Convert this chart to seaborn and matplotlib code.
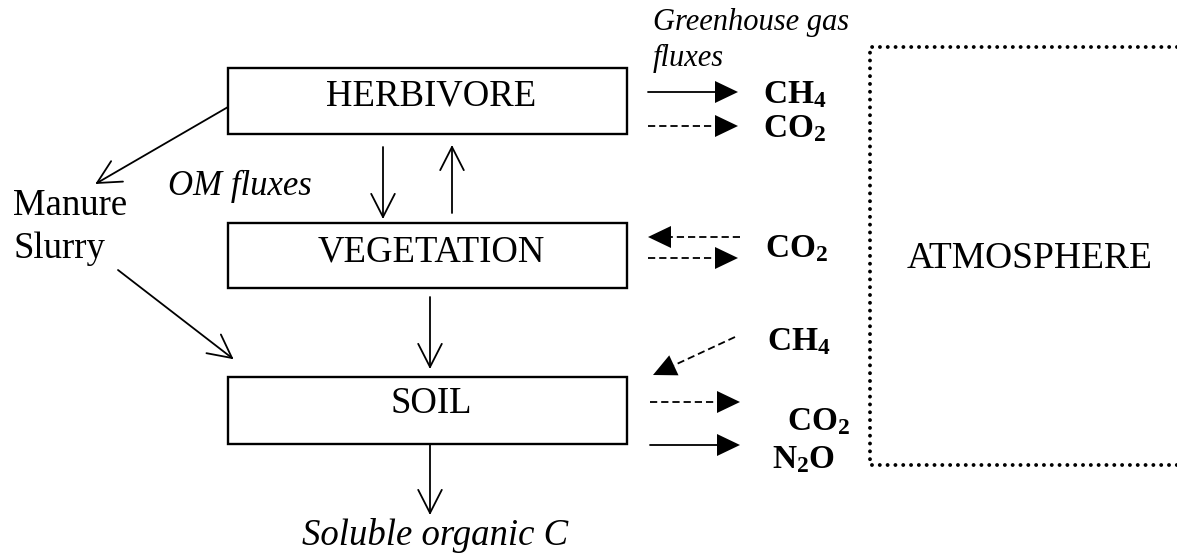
import numpy as np
import matplotlib
matplotlib.use("Agg")
import matplotlib.pyplot as plt
from matplotlib.patches import Rectangle, Polygon
import seaborn as sns

sns.set_style("white")
plt.rcParams['font.family'] = ['Liberation Serif', 'DejaVu Serif']
plt.rcParams['text.color'] = 'black'
plt.rcParams['mathtext.fontset'] = 'custom'
plt.rcParams['mathtext.rm'] = 'Liberation Serif'
plt.rcParams['mathtext.bf'] = 'Liberation Serif:bold'
plt.rcParams['mathtext.it'] = 'Liberation Serif:italic'

# diagram content
pools = ['HERBIVORE', 'VEGETATION', 'SOIL']
pool_top = [68, 223, 377]            # pixel rows of box tops
pool_bottom = [134, 288, 444]
pool_text_y = [105, 262, 413]
box_left, box_right = 228, 627

gas_labels = [r'$\mathbf{CH}_{\mathbf{4}}$', r'$\mathbf{CO}_{\mathbf{2}}$',
              r'$\mathbf{CO}_{\mathbf{2}}$', r'$\mathbf{CH}_{\mathbf{4}}$',
              r'$\mathbf{CO}_{\mathbf{2}}$', r'$\mathbf{N}_{\mathbf{2}}\mathbf{O}$']
gas_x = [763, 763, 765, 767, 787, 772]
gas_base = [103, 137, 257, 350, 430, 468]

W, H = 1177, 555
fig = plt.figure(figsize=(W / 100, H / 100), dpi=100)
ax = fig.add_axes([0, 0, 1, 1])
ax.set_xlim(0, W)
ax.set_ylim(H, 0)
ax.axis('off')

LW = 1.3
DASH = (4, 2.2)


def filled_arrow(x0, y0, x1, y1, dashed=False):
    v = np.array([x1 - x0, y1 - y0], float)
    L = np.hypot(*v)
    u = v / L
    n = np.array([-u[1], u[0]])
    hl, hw = 23, 11
    base = np.array([x1, y1]) - u * hl
    ls = (0, DASH) if dashed else '-'
    ax.plot([x0, base[0]], [y0, base[1]], color='black', lw=LW, linestyle=ls)
    tri = [(x1, y1), tuple(base + n * hw), tuple(base - n * hw)]
    ax.add_patch(Polygon(tri, closed=True, color='black', lw=0))


def open_arrow(x0, y0, x1, y1):
    v = np.array([x1 - x0, y1 - y0], float)
    u = v / np.hypot(*v)
    ax.plot([x0, x1], [y0, y1], color='black', lw=LW)
    for ang in (np.radians(27), -np.radians(27)):
        r = np.array([[np.cos(ang), -np.sin(ang)], [np.sin(ang), np.cos(ang)]])
        d = r @ (-u) * 26
        ax.plot([x1, x1 + d[0]], [y1, y1 + d[1]], color='black', lw=LW,
                solid_capstyle='round')


# pool boxes
for name, top, bot, ty in zip(pools, pool_top, pool_bottom, pool_text_y):
    ax.add_patch(Rectangle((box_left, top), box_right - box_left, bot - top,
                           fill=False, edgecolor='black', lw=1.7))
    ax.text(431, ty, name, ha='center', va='baseline', fontsize=26.5)

# atmosphere dotted box (right side runs off the page)
ax.plot([1177, 870, 870, 1177], [47, 47, 465, 465], color='black', lw=2.8,
        linestyle=(0, (0.01, 2.0)), dash_capstyle='round')
ax.text(907, 268, 'ATMOSPHERE', ha='left', va='baseline', fontsize=27)

# internal OM fluxes
open_arrow(383, 147, 383, 217)
open_arrow(452, 213, 452, 147)
open_arrow(430, 297, 430, 367)
open_arrow(430, 444, 430, 513)
open_arrow(228, 107, 97, 183)
open_arrow(118, 270, 232, 358)

ax.text(13, 215, 'Manure', fontsize=26.5, va='baseline')
ax.text(13, 258, 'Slurry', fontsize=26.5, va='baseline')
ax.text(168, 195, 'OM fluxes', fontsize=25, style='italic', va='baseline')
ax.text(302, 545, 'Soluble organic C', fontsize=26.5, style='italic', va='baseline')
ax.text(653, 30, 'Greenhouse gas', fontsize=22, style='italic', va='baseline')
ax.text(653, 66, 'fluxes', fontsize=22, style='italic', va='baseline')

# greenhouse gas fluxes
filled_arrow(648, 92, 738, 92)
filled_arrow(648, 126, 738, 126, dashed=True)
filled_arrow(740, 237, 648, 237, dashed=True)
filled_arrow(648, 258, 738, 258, dashed=True)
filled_arrow(735, 337, 653, 375, dashed=True)
filled_arrow(650, 402, 740, 402, dashed=True)
filled_arrow(650, 445, 740, 445)

for lab, x, y in zip(gas_labels, gas_x, gas_base):
    ax.text(x, y, lab, fontsize=24, va='baseline', ha='left')

fig.savefig('out.png', dpi=100, facecolor='white')
